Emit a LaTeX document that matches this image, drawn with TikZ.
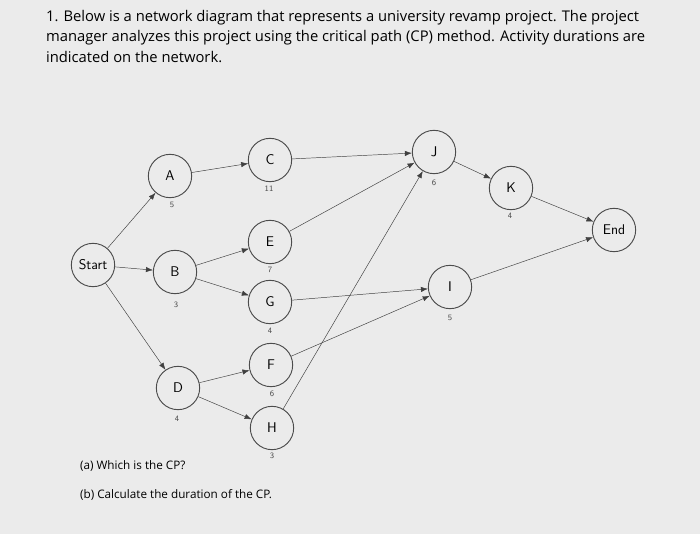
\documentclass[tikz,border=0pt]{standalone}
\usepackage{fontspec}
\setmainfont{Open Sans}
\usetikzlibrary{arrows.meta}
\begin{document}
\begin{tikzpicture}[x=0.03cm,y=-0.03cm,
  act/.style={circle,draw=black!70,thick,fill=white!92!black,minimum size=1.3cm,inner sep=0pt,font=\sffamily\large},
  dur/.style={font=\sffamily\scriptsize,text=black!70},
  link/.style={-{Latex[length=6pt]},black!75}]

\fill[black!8] (0,0) rectangle (700,534);
\useasboundingbox (0,0) rectangle (700,534);

% question text
\node[anchor=north west,align=left,font=\fontsize{12.6}{17.5}\selectfont] (q) at (42,6)
 {1. Below is a network diagram that represents a university revamp project. The project\\
  manager analyzes this project using the critical path (CP) method. Activity durations are\\
  indicated on the network.};

% activities
\node[act] (st) at (93,265) {Start};
\node[act] (a) at (170,176) {A};
\node[act] (b) at (175,272) {B};
\node[act] (d) at (178,388) {D};
\node[act] (c) at (270,160) {C};
\node[act] (e) at (270,242) {E};
\node[act] (g) at (270,302) {G};
\node[act] (f) at (271,365) {F};
\node[act] (h) at (272,428) {H};
\node[act] (j) at (434,152) {J};
\node[act] (k) at (511,188) {K};
\node[act] (i) at (450,287) {I};
\node[act] (en) at (614,230) {End};

% durations
\node[dur] (da) at (172,205) {5};
\node[dur] (db) at (176,305) {3};
\node[dur] (dd) at (177,419) {4};
\node[dur] (dc) at (269,189) {11};
\node[dur] (de) at (270,270) {7};
\node[dur] (dg) at (270,331) {4};
\node[dur] (df) at (272,394) {6};
\node[dur] (dh) at (272,456) {3};
\node[dur] (dj) at (434,183) {6};
\node[dur] (dk) at (510,216) {4};
\node[dur] (di) at (450,318) {5};

% precedences
\draw[link] (st) -- (a);
\draw[link] (st) -- (b);
\draw[link] (st) -- (d);
\draw[link] (a) -- (c);
\draw[link] (b) -- (e);
\draw[link] (b) -- (g);
\draw[link] (d) -- (f);
\draw[link] (d) -- (h);
\draw[link] (c) -- (j);
\draw[link] (e) -- (j);
\draw[link] (h) -- (j);
\draw[link] (g) -- (i);
\draw[link] (f) -- (i);
\draw[link] (j) -- (k);
\draw[link] (k) -- (en);
\draw[link] (i) -- (en);

\node[anchor=west,font=\normalsize] (qa) at (76,466) {(a) Which is the CP?};
\node[anchor=west,font=\normalsize] (qb) at (76,495) {(b) Calculate the duration of the CP.};
\end{tikzpicture}
\end{document}
